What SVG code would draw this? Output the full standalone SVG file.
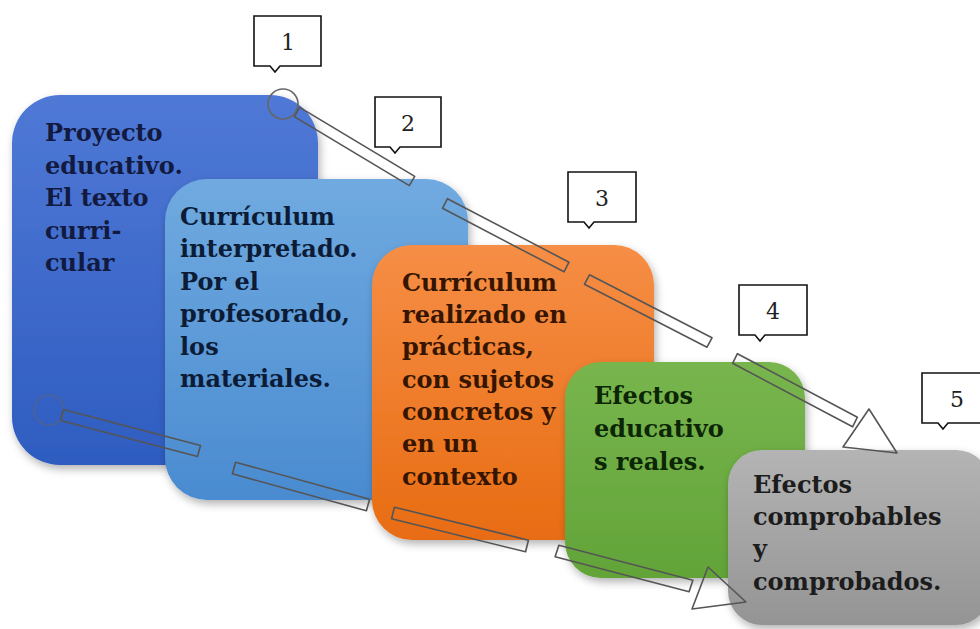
<svg xmlns="http://www.w3.org/2000/svg" width="980" height="629" viewBox="0 0 980 629">
<defs>
<linearGradient id="gBlue" x1="0" y1="0" x2="0" y2="1"><stop offset="0" stop-color="#5079d6"/><stop offset="1" stop-color="#2e5cc0"/></linearGradient>
<linearGradient id="gLight" x1="0" y1="0" x2="0" y2="1"><stop offset="0" stop-color="#70aae0"/><stop offset="1" stop-color="#4a8bd0"/></linearGradient>
<linearGradient id="gOrange" x1="0" y1="0" x2="0" y2="1"><stop offset="0" stop-color="#f68e46"/><stop offset="1" stop-color="#e86c12"/></linearGradient>
<linearGradient id="gGreen" x1="0" y1="0" x2="0" y2="1"><stop offset="0" stop-color="#78b54e"/><stop offset="1" stop-color="#62a438"/></linearGradient>
<linearGradient id="gGray" x1="0" y1="0" x2="0" y2="1"><stop offset="0" stop-color="#b4b4b4"/><stop offset="1" stop-color="#949494"/></linearGradient>
<filter id="sh" x="-10%" y="-10%" width="125%" height="125%"><feDropShadow dx="2" dy="4" stdDeviation="4" flood-color="#000" flood-opacity="0.3"/></filter>
</defs>
<style>
.t{font-family:"DejaVu Serif","Liberation Serif",serif;font-size:24px;font-weight:bold;}
.n{font-family:"DejaVu Serif","Liberation Serif",serif;font-size:22px;fill:#222;text-anchor:middle;}
.co{fill:#fff;stroke:#111;stroke-width:1.6;}
.seg{fill:none;stroke:#555;stroke-width:1.6;stroke-linejoin:round;}
.cir{fill:none;stroke:#666;stroke-width:1.6;}
</style>

<g id="node1">
<rect x="12" y="95" width="306" height="370" rx="48" fill="url(#gBlue)" filter="url(#sh)"/>
<text class="t" fill="#121a40"><tspan x="45" y="141">Proyecto</tspan><tspan x="45" y="174">educativo.</tspan><tspan x="45" y="206">El texto</tspan><tspan x="45" y="239">curri-</tspan><tspan x="45" y="271">cular</tspan></text>
</g>
<g id="node2">
<rect x="165" y="179" width="303" height="321" rx="42" fill="url(#gLight)" filter="url(#sh)"/>
<text class="t" fill="#0c1c36"><tspan x="180" y="225">Currículum</tspan><tspan x="180" y="257">interpretado.</tspan><tspan x="180" y="290">Por el</tspan><tspan x="180" y="322">profesorado,</tspan><tspan x="180" y="355">los</tspan><tspan x="180" y="387">materiales.</tspan></text>
</g>
<g id="node3">
<rect x="372" y="245" width="282" height="295" rx="40" fill="url(#gOrange)" filter="url(#sh)"/>
<text class="t" fill="#361500"><tspan x="402" y="291">Currículum</tspan><tspan x="402" y="323">realizado en</tspan><tspan x="402" y="355">prácticas,</tspan><tspan x="402" y="388">con sujetos</tspan><tspan x="402" y="420">concretos y</tspan><tspan x="402" y="452">en un</tspan><tspan x="402" y="485">contexto</tspan></text>
</g>
<g id="node4">
<rect x="565" y="362" width="240" height="216" rx="36" fill="url(#gGreen)" filter="url(#sh)"/>
<text class="t" fill="#0c2605"><tspan x="594" y="404">Efectos</tspan><tspan x="594" y="437">educativo</tspan><tspan x="594" y="470">s reales.</tspan></text>
</g>
<g id="node5">
<rect x="728" y="450" width="262" height="175" rx="34" fill="url(#gGray)" filter="url(#sh)"/>
<text class="t" fill="#1c1c1c"><tspan x="753" y="493">Efectos</tspan><tspan x="753" y="525">comprobables</tspan><tspan x="753" y="557">y</tspan><tspan x="753" y="590">comprobados.</tspan></text>
</g>

<g id="connectors">
<circle class="cir" cx="283" cy="104" r="15"/>
<polygon class="seg" points="299.7,107.4 414.7,176.4 409.3,185.6 294.3,116.6"/>
<polygon class="seg" points="447.5,198.7 569,262.2 564,271.8 442.5,208.3"/>
<polygon class="seg" points="589.5,274.8 712,337.8 707,347.2 584.5,284.2"/>
<polygon class="seg" points="737.4,353.7 857.4,417.2 852.6,426.8 732.6,363.3"/>
<polygon class="seg" points="869,409 843,447 897,453"/>
<circle class="cir" cx="49" cy="410" r="15" stroke-opacity="0.5"/>
<polygon class="seg" points="63.5,409.5 200.5,445.5 197.5,456.5 60.5,420.5"/>
<polygon class="seg" points="235.6,462.2 369.6,499.2 366.4,510.8 232.4,473.8"/>
<polygon class="seg" points="394.4,507.2 528.4,540.2 525.6,551.8 391.6,518.8"/>
<polygon class="seg" points="558.9,545.2 692.9,580.2 689.1,591.8 555.1,556.8"/>
<polygon class="seg" points="708,567 692,609 746,602"/>
</g>

<g id="callout1"><path class="co" d="M254,16 H321 V66 H280 L275,72 L270,66 H254 Z"/><text class="n" x="288" y="50">1</text></g>
<g id="callout2"><path class="co" d="M375,97 H441 V147 H400 L395,153 L390,147 H375 Z"/><text class="n" x="408" y="131">2</text></g>
<g id="callout3"><path class="co" d="M568,172 H636 V222 H594 L589,228 L584,222 H568 Z"/><text class="n" x="602" y="206">3</text></g>
<g id="callout4"><path class="co" d="M739,285 H807 V335 H765 L760,341 L755,335 H739 Z"/><text class="n" x="773" y="319">4</text></g>
<g id="callout5"><path class="co" d="M922,373 H990 V423 H948 L943,429 L938,423 H922 Z"/><text class="n" x="957" y="407">5</text></g>
</svg>
